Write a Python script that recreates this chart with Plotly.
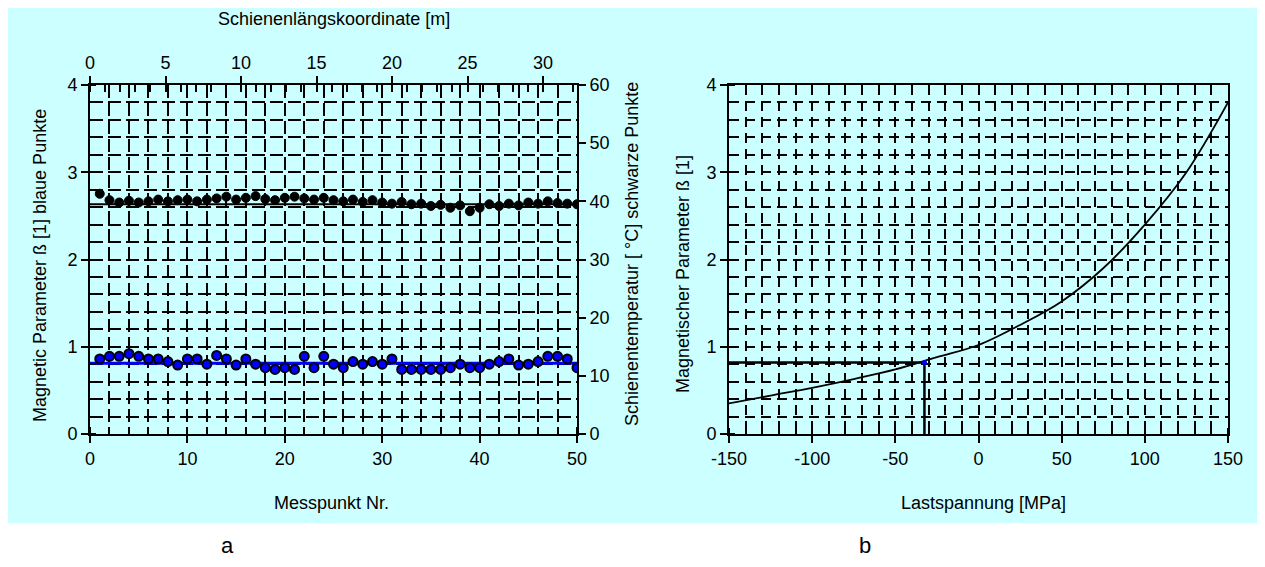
import plotly.graph_objects as go

# ---------------- data ----------------
mess_nr = list(range(1, 51))
beta_blue = [0.86, 0.89, 0.89, 0.92, 0.89, 0.86, 0.86, 0.83, 0.79, 0.86,
             0.86, 0.80, 0.90, 0.86, 0.79, 0.86, 0.80, 0.76, 0.74, 0.76,
             0.74, 0.89, 0.76, 0.89, 0.80, 0.76, 0.83, 0.80, 0.83, 0.80,
             0.86, 0.74, 0.74, 0.74, 0.74, 0.74, 0.76, 0.80, 0.76, 0.76,
             0.80, 0.83, 0.86, 0.79, 0.80, 0.83, 0.89, 0.89, 0.86, 0.76]
temp_black = [41.3, 40.2, 39.8, 40.1, 39.8, 40.0, 40.3, 40.0, 40.2, 40.3,
              40.0, 40.3, 40.5, 40.8, 40.3, 40.6, 40.9, 40.4, 40.2, 40.6,
              40.8, 40.5, 40.3, 40.6, 40.2, 40.0, 40.3, 39.9, 40.2, 39.8,
              39.6, 39.9, 39.5, 39.6, 39.2, 39.4, 38.9, 39.3, 38.3, 38.9,
              39.5, 39.2, 39.6, 39.3, 39.8, 39.6, 40.0, 39.7, 39.6, 39.5]
beta_mean = 0.81
temp_mean = 39.5
line_x = [0, 50]

stress = [-150, -125, -100, -75, -50, -25, 0, 25, 50, 75, 100, 125, 150]
beta_curve = [0.35, 0.44, 0.53, 0.63, 0.74, 0.88, 1.02, 1.25, 1.52, 1.9, 2.4, 3.0, 3.8]
read_stress = -32.5
read_beta = 0.82

stress_ticks = [-150, -100, -50, 0, 50, 100, 150]
stress_ticktext = ["-150", "-100", "-50", "0", "50", "100", "150"]

CYAN = "#CCFFFF"
FONT = "Liberation Sans"

# page body margin offset compensation
OFF = 8
W, H = 1265 - OFF, 567 - OFF


def px(x):
    return max(0.0, min(1.0, (x - OFF) / W))


def py(y):
    return max(0.0, min(1.0, 1 - (y - OFF) / H))


fig = go.Figure()

# left panel traces
fig.add_trace(go.Scatter(x=line_x, y=[beta_mean, beta_mean], mode="lines",
                         line=dict(color="#0000FF", width=3), xaxis="x", yaxis="y",
                         showlegend=False, hoverinfo="skip"))
fig.add_trace(go.Scatter(x=line_x, y=[temp_mean, temp_mean], mode="lines",
                         line=dict(color="black", width=2), xaxis="x", yaxis="y2",
                         showlegend=False, hoverinfo="skip"))
fig.add_trace(go.Scatter(x=mess_nr, y=beta_blue, mode="markers",
                         marker=dict(color="#0000FF", size=9, line=dict(color="black", width=2)),
                         xaxis="x", yaxis="y", showlegend=False))
fig.add_trace(go.Scatter(x=mess_nr, y=temp_black, mode="markers",
                         marker=dict(color="black", size=9, line=dict(color="black", width=1)),
                         xaxis="x", yaxis="y2", showlegend=False))
# invisible trace to activate top axis
fig.add_trace(go.Scatter(x=[0], y=[0], mode="markers", marker=dict(opacity=0),
                         xaxis="x2", yaxis="y", showlegend=False, hoverinfo="skip"))

# right panel traces
fig.add_trace(go.Scatter(x=[-150, read_stress, read_stress], y=[read_beta, read_beta, 0],
                         mode="lines", line=dict(color="black", width=2.5),
                         xaxis="x3", yaxis="y3", showlegend=False, hoverinfo="skip"))
fig.add_trace(go.Scatter(x=stress, y=beta_curve, mode="lines",
                         line=dict(color="black", width=1.8, shape="spline"),
                         xaxis="x3", yaxis="y3", showlegend=False))
fig.add_trace(go.Scatter(x=[read_stress], y=[read_beta], mode="markers",
                         marker=dict(color="#0000FF", size=5),
                         xaxis="x3", yaxis="y3", showlegend=False))

dom_lx = [px(90), px(577)]
dom_rx = [px(729), px(1228)]
dom_y = [py(434), py(85)]
tickfont = dict(family=FONT, size=18, color="black")

common = dict(showline=True, linecolor="black", linewidth=2, zeroline=False,
              tickfont=tickfont, tickcolor="black", tickwidth=2, automargin=False)

fig.update_layout(
    width=W, height=H,
    margin=dict(l=0, r=0, t=0, b=0, pad=0),
    paper_bgcolor="white", plot_bgcolor="rgba(0,0,0,0)",
    font=dict(family=FONT, color="black"),
    xaxis=dict(domain=dom_lx, range=[0, 50], anchor="y", dtick=10, ticks="outside",
               ticklen=7, showgrid=True, gridcolor="black", gridwidth=2, griddash="13px,5px",
               minor=dict(dtick=2, ticks="inside", ticklen=7, tickcolor="black", tickwidth=2,
                          showgrid=True, gridcolor="black", gridwidth=2, griddash="13px,5px"),
               **common),
    xaxis2=dict(domain=dom_lx, range=[0, 32.25], anchor="y", overlaying="x", side="top",
                dtick=5, ticks="outside", ticklen=7, showgrid=False,
                minor=dict(dtick=1, ticks="inside", ticklen=7, tickcolor="black", tickwidth=2),
                **common),
    yaxis=dict(domain=dom_y, range=[0, 4], anchor="x", dtick=1, ticks="outside", ticklen=7,
               showgrid=True, gridcolor="black", gridwidth=2, griddash="13px,5px",
               minor=dict(dtick=0.2, ticks="inside", ticklen=6, tickcolor="black", tickwidth=2,
                          showgrid=True, gridcolor="black", gridwidth=2, griddash="13px,5px"),
               **common),
    yaxis2=dict(domain=dom_y, range=[0, 60], anchor="x", overlaying="y", side="right",
                dtick=10, ticks="outside", ticklen=7, showgrid=False, **common),
    xaxis3=dict(domain=dom_rx, range=[-150, 150], anchor="y3", tickvals=stress_ticks,
                ticktext=stress_ticktext, ticks="outside",
                ticklen=7, mirror=True, showgrid=True, gridcolor="black", gridwidth=2,
                griddash="10px,6px",
                minor=dict(dtick=10, ticks="inside", ticklen=6, tickcolor="black", tickwidth=2,
                           showgrid=True, gridcolor="black", gridwidth=2, griddash="10px,6px"),
                **common),
    yaxis3=dict(domain=dom_y, range=[0, 4], anchor="x3", dtick=1, ticks="outside", ticklen=7,
                mirror=True, showgrid=True, gridcolor="black", gridwidth=2, griddash="10px,6px",
                minor=dict(dtick=0.2, ticks="inside", ticklen=6, tickcolor="black", tickwidth=2,
                           showgrid=True, gridcolor="black", gridwidth=2, griddash="10px,6px"),
                **common),
    shapes=[
        dict(type="rect", xref="paper", yref="paper", layer="below",
             x0=px(5), x1=px(590), y0=py(523), y1=py(6),
             fillcolor=CYAN, line=dict(width=0)),
        dict(type="rect", xref="paper", yref="paper", layer="below",
             x0=px(590), x1=px(1259), y0=py(523), y1=py(6),
             fillcolor=CYAN, line=dict(width=0)),
    ],
)


def ann(text, x, y, angle=0, size=18):
    fig.add_annotation(text=text, x=px(x), y=py(y), xref="paper", yref="paper",
                       showarrow=False, textangle=angle, xanchor="center", yanchor="middle",
                       font=dict(family=FONT, size=size, color="black"))


ann("Schienenlängskoordinate [m]", 334, 19)
ann("Messpunkt Nr.", 331, 503)
ann("Magnetic Parameter ß [1] blaue Punkte", 40, 266, angle=-90)
ann("Schienentemperatur [ °C] schwarze Punkte", 632, 254, angle=-90)
ann("Magnetischer Parameter ß [1]", 683, 274, angle=-90)
ann("Lastspannung [MPa]", 983, 503)
ann("a", 227, 545, size=22)
ann("b", 865, 545, size=22)

fig.write_html("out.html")
